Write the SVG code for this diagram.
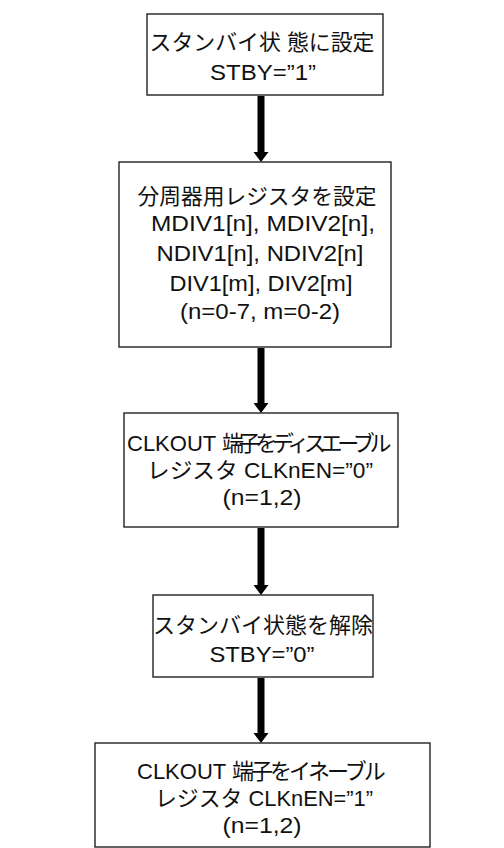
<svg xmlns="http://www.w3.org/2000/svg" width="504" height="848" viewBox="0 0 504 848">
<defs>
<style>
.box{fill:#fff;stroke:#222;stroke-width:1.4}
.t{font-family:"Liberation Sans","Noto Sans CJK JP",Arial,sans-serif;font-size:22px;fill:#111;text-anchor:middle}
.s{text-anchor:start}
.jp{letter-spacing:-3px}
.jp2{letter-spacing:-5.3px}
.shaft{stroke:#000;stroke-width:7;fill:none}
.head{fill:#000}
</style>
</defs>
<rect width="504" height="848" fill="#fff"/>
<g id="connectors">
<line class="shaft" x1="261" y1="96" x2="261" y2="153"/><polygon class="head" points="253.5,152 268.5,152 261,162"/>
<line class="shaft" x1="261" y1="348" x2="261" y2="404"/><polygon class="head" points="253.5,403 268.5,403 261,413"/>
<line class="shaft" x1="261" y1="528" x2="261" y2="586"/><polygon class="head" points="253.5,585 268.5,585 261,595"/>
<line class="shaft" x1="261" y1="678" x2="261" y2="734"/><polygon class="head" points="253.5,733 268.5,733 261,743"/>
</g>
<g id="n1">
<rect class="box" x="147" y="14" width="236" height="81"/>
<text class="t" x="262" y="50" textLength="225" lengthAdjust="spacingAndGlyphs">スタンバイ状 態に設定</text>
<text class="t" x="263" y="80" textLength="106" lengthAdjust="spacingAndGlyphs">STBY=”1”</text>
</g>
<g id="n2">
<rect class="box" x="119" y="162" width="272" height="185"/>
<text class="t" x="257" y="204" textLength="239" lengthAdjust="spacingAndGlyphs">分周器用レジスタを設定</text>
<text class="t" x="263" y="231" textLength="224" lengthAdjust="spacingAndGlyphs">MDIV1[n], MDIV2[n],</text>
<text class="t" x="260" y="261" textLength="207" lengthAdjust="spacingAndGlyphs">NDIV1[n], NDIV2[n]</text>
<text class="t" x="261" y="291" textLength="183" lengthAdjust="spacingAndGlyphs">DIV1[m], DIV2[m]</text>
<text class="t" x="260" y="319" textLength="160" lengthAdjust="spacingAndGlyphs">(n=0-7, m=0-2)</text>
</g>
<g id="n3">
<rect class="box" x="124" y="413" width="274" height="114"/>
<text class="t s" x="127" y="451">CLKOUT <tspan class="jp2">端子をディスエーブル</tspan></text>
<text class="t" x="260" y="478" textLength="226" lengthAdjust="spacingAndGlyphs">レジスタ CLKnEN=”0”</text>
<text class="t" x="262" y="505" textLength="79" lengthAdjust="spacingAndGlyphs">(n=1,2)</text>
</g>
<g id="n4">
<rect class="box" x="153" y="595" width="220" height="82"/>
<text class="t" x="263" y="633" textLength="220" lengthAdjust="spacingAndGlyphs">スタンバイ状態を解除</text>
<text class="t" x="262" y="662" textLength="105" lengthAdjust="spacingAndGlyphs">STBY=”0”</text>
</g>
<g id="n5">
<rect class="box" x="95" y="743" width="335" height="104"/>
<text class="t s" x="137" y="779">CLKOUT <tspan class="jp">端子をイネーブル</tspan></text>
<text class="t" x="264" y="806" textLength="218" lengthAdjust="spacingAndGlyphs">レジスタ CLKnEN=”1”</text>
<text class="t" x="262" y="833" textLength="79" lengthAdjust="spacingAndGlyphs">(n=1,2)</text>
</g>
</svg>
